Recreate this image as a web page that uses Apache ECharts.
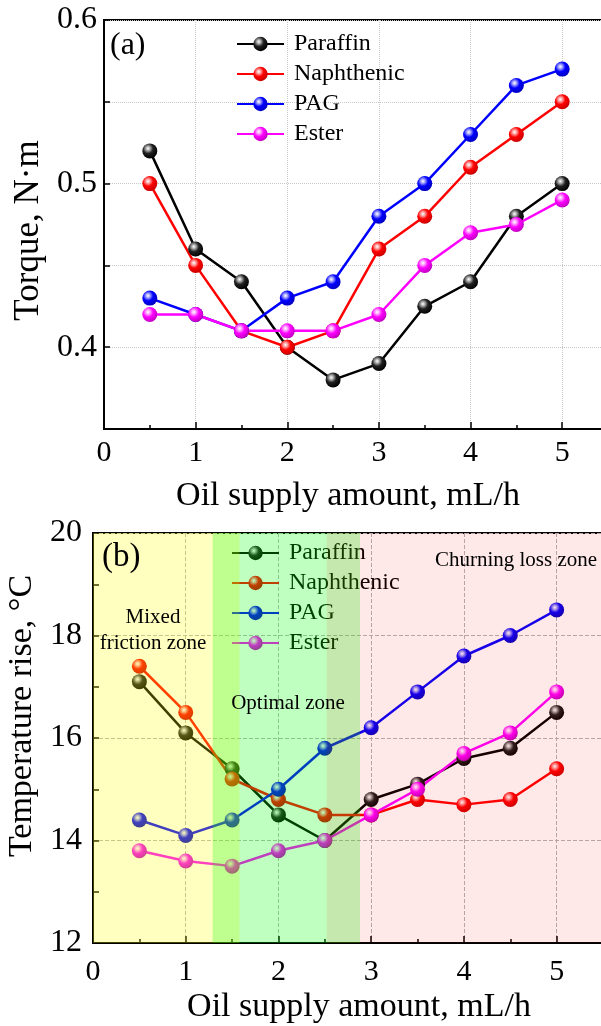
<!DOCTYPE html>
<html>
<head>
<meta charset="utf-8">
<script src="https://cdn.jsdelivr.net/npm/echarts@6/dist/echarts.min.js"></script>
<style>
  html, body { margin: 0; padding: 0; background: #fff; }
  #chart { width: 601px; height: 1026px; }
</style>
</head>
<body>
<div id="chart"></div>
<script>
// x values (oil supply amount, mL/h)
const oilSupply = [0.5, 1, 1.5, 2, 2.5, 3, 3.5, 4, 4.5, 5];
const oilNames = ['Paraffin', 'Naphthenic', 'PAG', 'Ester'];

// (a) torque, N·m
const torqueParaffin = [0.52, 0.46, 0.44, 0.40, 0.38, 0.39, 0.425, 0.44, 0.48, 0.50];
const torqueNaphthenic = [0.50, 0.45, 0.41, 0.40, 0.41, 0.46, 0.48, 0.51, 0.53, 0.55];
const torquePAG = [0.43, 0.42, 0.41, 0.43, 0.44, 0.48, 0.50, 0.53, 0.56, 0.57];
const torqueEster = [0.42, 0.42, 0.41, 0.41, 0.41, 0.42, 0.45, 0.47, 0.475, 0.49];

// (b) temperature rise, °C
const tempParaffin = [17.1, 16.1, 15.4, 14.5, 14.0, 14.8, 15.1, 15.6, 15.8, 16.5];
const tempNaphthenic = [17.4, 16.5, 15.2, 14.8, 14.5, 14.5, 14.8, 14.7, 14.8, 15.4];
const tempPAG = [14.4, 14.1, 14.4, 15.0, 15.8, 16.2, 16.9, 17.6, 18.0, 18.5];
const tempEster = [13.8, 13.6, 13.5, 13.8, 14.0, 14.5, 15.0, 15.7, 16.1, 16.9];

// zone spans on the x axis of (b)
const mixedZone = [0, 1.58];
const optimalZone = [1.29, 2.88];
const churnZone = [2.52, 5.5];

const FONT = 'Liberation Serif';
const lineColors = ['#000000', '#ff0000', '#0000ff', '#ff00ff'];
const ballStops = [
  ['#ffffff', '#b8b8b8', '#202020', '#000000'],
  ['#ffffff', '#ffb0b0', '#ff0000', '#c80000'],
  ['#ffffff', '#b0b0ff', '#0000ff', '#0000c0'],
  ['#ffffff', '#ffb0ff', '#ff00ff', '#c000c0']
];

function ball(i) {
  const s = ballStops[i];
  return new echarts.graphic.RadialGradient(0.38, 0.34, 0.68, [
    { offset: 0, color: s[0] },
    { offset: 0.18, color: s[1] },
    { offset: 0.5, color: s[2] },
    { offset: 1, color: s[3] }
  ]);
}

function oilSeries(i, values, axis) {
  return {
    name: oilNames[i],
    type: 'line',
    xAxisIndex: axis,
    yAxisIndex: axis,
    data: oilSupply.map((x, k) => [x, values[k]]),
    symbol: 'circle',
    symbolSize: 15,
    lineStyle: { color: lineColors[i], width: 2.5 },
    itemStyle: { color: ball(i), borderWidth: 0 },
    emphasis: { disabled: true },
    animation: false
  };
}

function xAxisMain(grid, labelMargin, nameGap, namePad) {
  return {
    type: 'value', gridIndex: grid, min: 0, max: 5.5, interval: 1,
    position: 'bottom',
    name: 'Oil supply amount, mL/h',
    nameLocation: 'middle', nameGap: nameGap,
    nameTextStyle: { fontFamily: FONT, fontSize: 34, color: '#000', padding: namePad },
    axisLine: { lineStyle: { color: '#000', width: 2 } },
    axisTick: { inside: true, length: 7, lineStyle: { color: '#000', width: 1.5 } },
    axisLabel: {
      fontFamily: FONT, fontSize: 30, color: '#000', margin: labelMargin,
      formatter: v => Number.isInteger(v) ? String(v) : ''
    },
    splitLine: { show: true, lineStyle: { color: grid === 0 ? '#c8c8c8' : '#b4b4b4', type: grid === 0 ? 'dotted' : 'dashed', width: 1 } }
  };
}

function xAxisHalf(grid) {
  return {
    type: 'value', gridIndex: grid, min: 0, max: 5.5, interval: 0.5,
    position: 'bottom', offset: 0,
    axisLine: { show: false },
    axisTick: { inside: true, length: 4, lineStyle: { color: '#000', width: 1.5 } },
    axisLabel: { show: false },
    splitLine: { show: false }
  };
}

const chart = echarts.init(document.getElementById('chart'), null, { renderer: 'canvas' });

const zoneOverlay = {
  name: 'zones',
  type: 'line',
  xAxisIndex: 1,
  yAxisIndex: 1,
  data: [],
  z: 10,
  silent: true,
  animation: false,
  markArea: {
    z: 10,
    silent: true,
    label: { show: false },
    data: [
      [{ xAxis: mixedZone[0], itemStyle: { color: 'rgba(255,255,0,0.25)' } }, { xAxis: mixedZone[1] }],
      [{ xAxis: optimalZone[0], itemStyle: { color: 'rgba(0,255,0,0.25)' } }, { xAxis: optimalZone[1] }],
      [{ xAxis: churnZone[0], itemStyle: { color: 'rgba(255,0,0,0.09)' } }, { xAxis: churnZone[1] }]
    ]
  }
};

const legendBase = {
  orient: 'vertical',
  itemWidth: 47,
  itemHeight: 18,
  itemGap: 6,
  selectedMode: false,
  textStyle: { fontFamily: FONT, fontSize: 24, color: '#000', padding: [0, 0, 0, 5] },
  data: oilNames
};

const option = {
  backgroundColor: '#fff',
  animation: false,
  grid: [
    { left: 104, top: 20, width: 504, height: 409, outerBoundsMode: 'none', containLabel: false, show: true, borderColor: '#000', borderWidth: 2, backgroundColor: 'transparent' },
    { left: 93, top: 533, width: 510, height: 410, outerBoundsMode: 'none', containLabel: false, show: true, borderColor: '#000', borderWidth: 2, backgroundColor: 'transparent' }
  ],
  legend: [
    Object.assign({}, legendBase, { left: 231, top: 27 }),
    Object.assign({}, legendBase, { left: 226, top: 536 })
  ],
  xAxis: [
    xAxisMain(0, 9, 50, [0, 16, 0, 0]),
    xAxisMain(1, 14, 47, [0, 0, 0, 22]),
    xAxisHalf(0),
    xAxisHalf(1)
  ],
  yAxis: [
    {
      type: 'value', gridIndex: 0, min: 0.35, max: 0.6, interval: 0.05,
      name: 'Torque, N·m', nameLocation: 'middle', nameGap: 56,
      nameTextStyle: { fontFamily: FONT, fontSize: 35, color: '#000', padding: [0, 12, 0, 0] },
      axisLine: { show: true, lineStyle: { color: '#000', width: 2 } },
      axisTick: { show: true, inside: true, length: 6, lineStyle: { color: '#000', width: 1.5 } },
      axisLabel: {
        fontFamily: FONT, fontSize: 32, color: '#000', margin: 7,
        formatter: v => Math.abs(v * 10 - Math.round(v * 10)) < 1e-6 ? v.toFixed(1) : ''
      },
      splitLine: { show: true, lineStyle: { color: '#c8c8c8', type: 'dotted', width: 1 } }
    },
    {
      type: 'value', gridIndex: 1, min: 12, max: 20, interval: 2,
      name: 'Temperature rise, °C', nameLocation: 'middle', nameGap: 44,
      nameTextStyle: { fontFamily: FONT, fontSize: 34, color: '#000', padding: [0, 0, 0, 44] },
      axisLine: { show: true, lineStyle: { color: '#000', width: 2 } },
      axisTick: { show: true, inside: true, length: 6, lineStyle: { color: '#000', width: 1.5 } },
      minorTick: { show: true, splitNumber: 2, length: 6, lineStyle: { color: '#000', width: 1.5 } },
      axisLabel: { fontFamily: FONT, fontSize: 32, color: '#000', margin: 11 },
      splitLine: { show: true, lineStyle: { color: '#b4b4b4', type: 'dashed', width: 1 } }
    }
  ],
  graphic: [
    { type: 'text', z: 100, style: { text: '(a)', x: 110, y: 46, fill: '#000', font: '32px "Liberation Serif"', textVerticalAlign: 'middle' } },
    { type: 'text', z: 100, style: { text: '(b)', x: 102, y: 557, fill: '#000', font: '33px "Liberation Serif"', textVerticalAlign: 'middle' } },
    { type: 'text', z: 100, style: { text: 'Mixed\nfriction zone', x: 153, y: 630, fill: '#000', font: '21px "Liberation Serif"', lineHeight: 26, textAlign: 'center', textVerticalAlign: 'middle' } },
    { type: 'text', z: 100, style: { text: 'Optimal zone', x: 288, y: 703, fill: '#000', font: '21px "Liberation Serif"', textAlign: 'center', textVerticalAlign: 'middle' } },
    { type: 'text', z: 100, style: { text: 'Churning loss zone', x: 516, y: 560, fill: '#000', font: '21px "Liberation Serif"', textAlign: 'center', textVerticalAlign: 'middle' } }
  ],
  series: [
    oilSeries(0, torqueParaffin, 0),
    oilSeries(1, torqueNaphthenic, 0),
    oilSeries(2, torquePAG, 0),
    oilSeries(3, torqueEster, 0),
    oilSeries(0, tempParaffin, 1),
    oilSeries(1, tempNaphthenic, 1),
    oilSeries(2, tempPAG, 1),
    oilSeries(3, tempEster, 1),
    zoneOverlay
  ]
};

chart.setOption(option);
</script>
</body>
</html>
